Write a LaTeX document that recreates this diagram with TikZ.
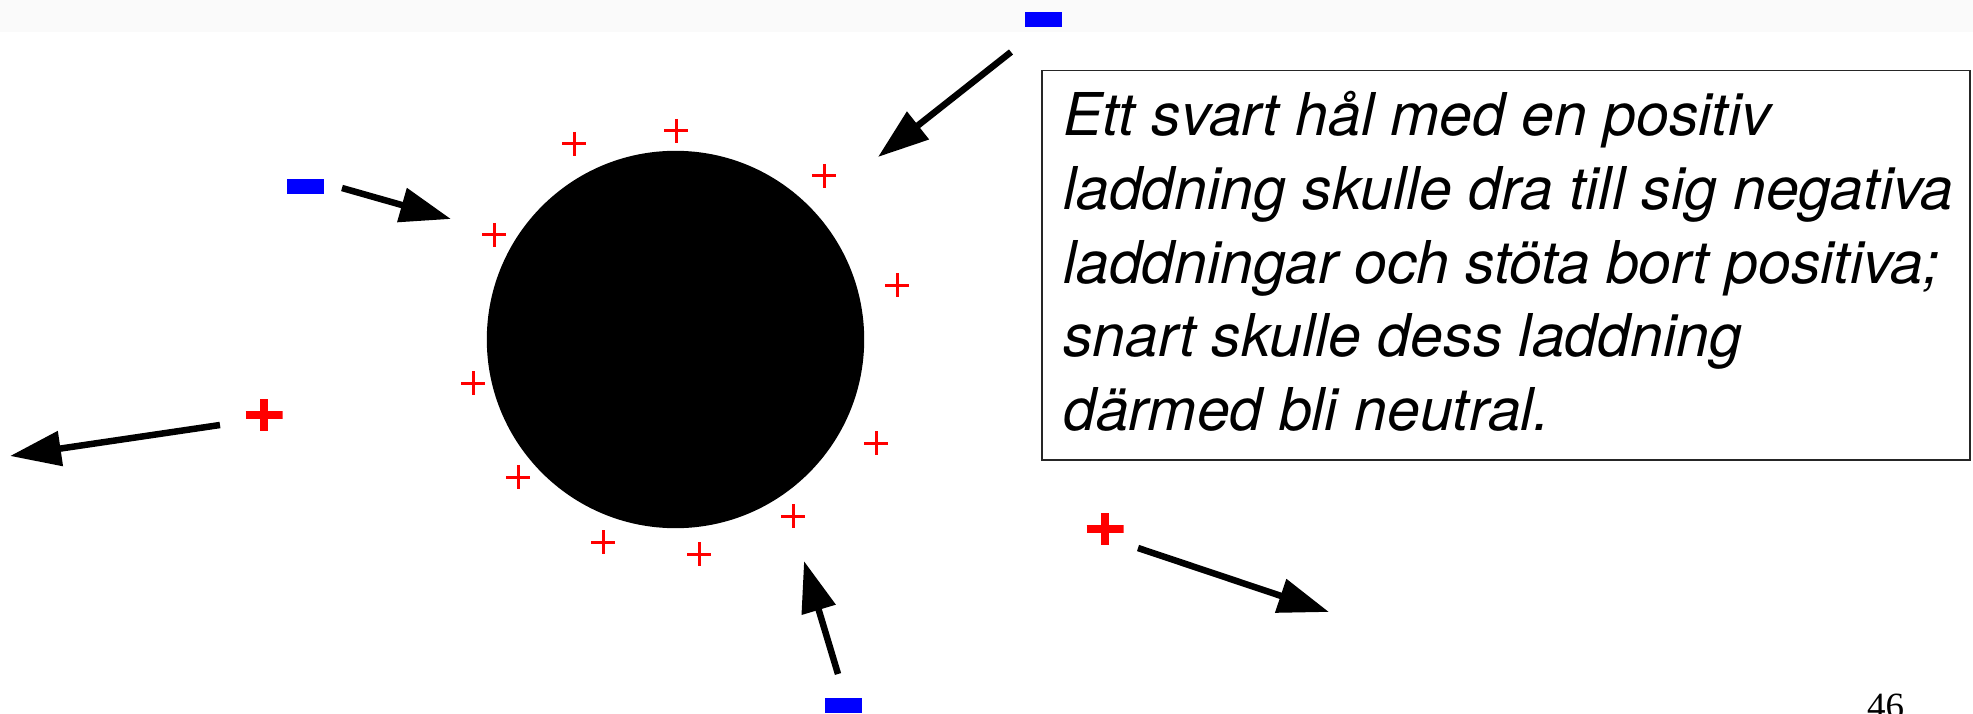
\documentclass[tikz,border=0pt]{standalone}
\usepackage{fontspec}
\setmainfont{TeX Gyre Heros}
\newfontfamily\numfont{Liberation Serif}
\usetikzlibrary{arrows.meta}
\definecolor{pr}{RGB}{255,0,0}
\definecolor{nb}{RGB}{0,0,255}
\definecolor{band}{RGB}{250,250,250}
\tikzset{
  negcharge/.style={fill=nb, minimum width=37pt, minimum height=15pt, inner sep=0pt, outer sep=0pt},
  bigplus/.style={minimum width=37pt, minimum height=32pt, inner sep=0pt, outer sep=0pt,
    path picture={\draw[pr, line width=8pt] (path picture bounding box.west) -- (path picture bounding box.east);
                  \draw[pr, line width=8pt] (path picture bounding box.north) -- (path picture bounding box.south);}},
  smallplus/.style={minimum width=24pt, minimum height=24pt, inner sep=0pt, outer sep=0pt,
    path picture={\draw[pr, line width=3pt] (path picture bounding box.west) -- (path picture bounding box.east);
                  \draw[pr, line width=3pt] (path picture bounding box.north) -- (path picture bounding box.south);}},
  force/.style={line width=6.5pt, -{Triangle[length=51pt,width=34pt]}},
  txt/.style={anchor=base west, inner sep=0pt, font=\fontsize{59}{72}\selectfont\itshape},
}
\begin{document}
\begin{tikzpicture}[x=1pt,y=-1pt]
\useasboundingbox (0,0) rectangle (1973,714);
\clip (0,0) rectangle (1973,714);
\fill[band] (0,0) rectangle (1973,32);

% black hole
\node[circle, fill=black, minimum size=377.4pt, inner sep=0pt] (bh) at (675.5,339.5) {};

% small positive charges around the hole
\node[smallplus] (s1) at (574,144) {};
\node[smallplus] (s2) at (676,131) {};
\node[smallplus] (s3) at (824,176) {};
\node[smallplus] (s4) at (494,235) {};
\node[smallplus] (s5) at (897,285) {};
\node[smallplus] (s6) at (473,383) {};
\node[smallplus] (s7) at (876,443) {};
\node[smallplus] (s8) at (518,477) {};
\node[smallplus] (s9) at (793,516) {};
\node[smallplus] (s10) at (603,542) {};
\node[smallplus] (s11) at (699,554) {};

% negative charges
\node[negcharge] (mtop) at (1043.5,19.5) {};
\node[negcharge] (mleft) at (305.5,186.5) {};
\node[negcharge] (mbot) at (843.5,705.5) {};

% big positive charges
\node[bigplus] (pleft) at (264,415) {};
\node[bigplus] (pright) at (1105,529) {};

% arrow end points
\coordinate (a1s) at (1011,52);  \coordinate (a1e) at (878,157);
\coordinate (a2s) at (342,188);  \coordinate (a2e) at (451,219);
\coordinate (a3s) at (220,425);  \coordinate (a3e) at (10,456);
\coordinate (a4s) at (838,674);  \coordinate (a4e) at (804,561);
\coordinate (a5s) at (1138,548); \coordinate (a5e) at (1329,612);

\draw[force] (a1s) -- (a1e);
\draw[force] (a2s) -- (a2e);
\draw[force] (a3s) -- (a3e);
\draw[force] (a4s) -- (a4e);
\draw[force] (a5s) -- (a5e);

% text box
\node[draw=black!85, line width=1.5pt, anchor=north west, minimum width=928pt, minimum height=389pt, inner sep=0pt] (box) at (1041,70) {};
\node[txt] (t1) at (1063,136) {Ett svart hål med en positiv};
\node[txt] (t2) at (1063,209.5) {laddning skulle dra till sig negativa};
\node[txt] (t3) at (1063,283) {laddningar och stöta bort positiva;};
\node[txt] (t4) at (1063,356.5) {snart skulle dess laddning};
\node[txt] (t5) at (1063,430) {därmed bli neutral.};

% page number
\node[anchor=base west, inner sep=0pt, font=\numfont\fontsize{37}{40}\selectfont] (pg) at (1867,718) {46};
\end{tikzpicture}
\end{document}
